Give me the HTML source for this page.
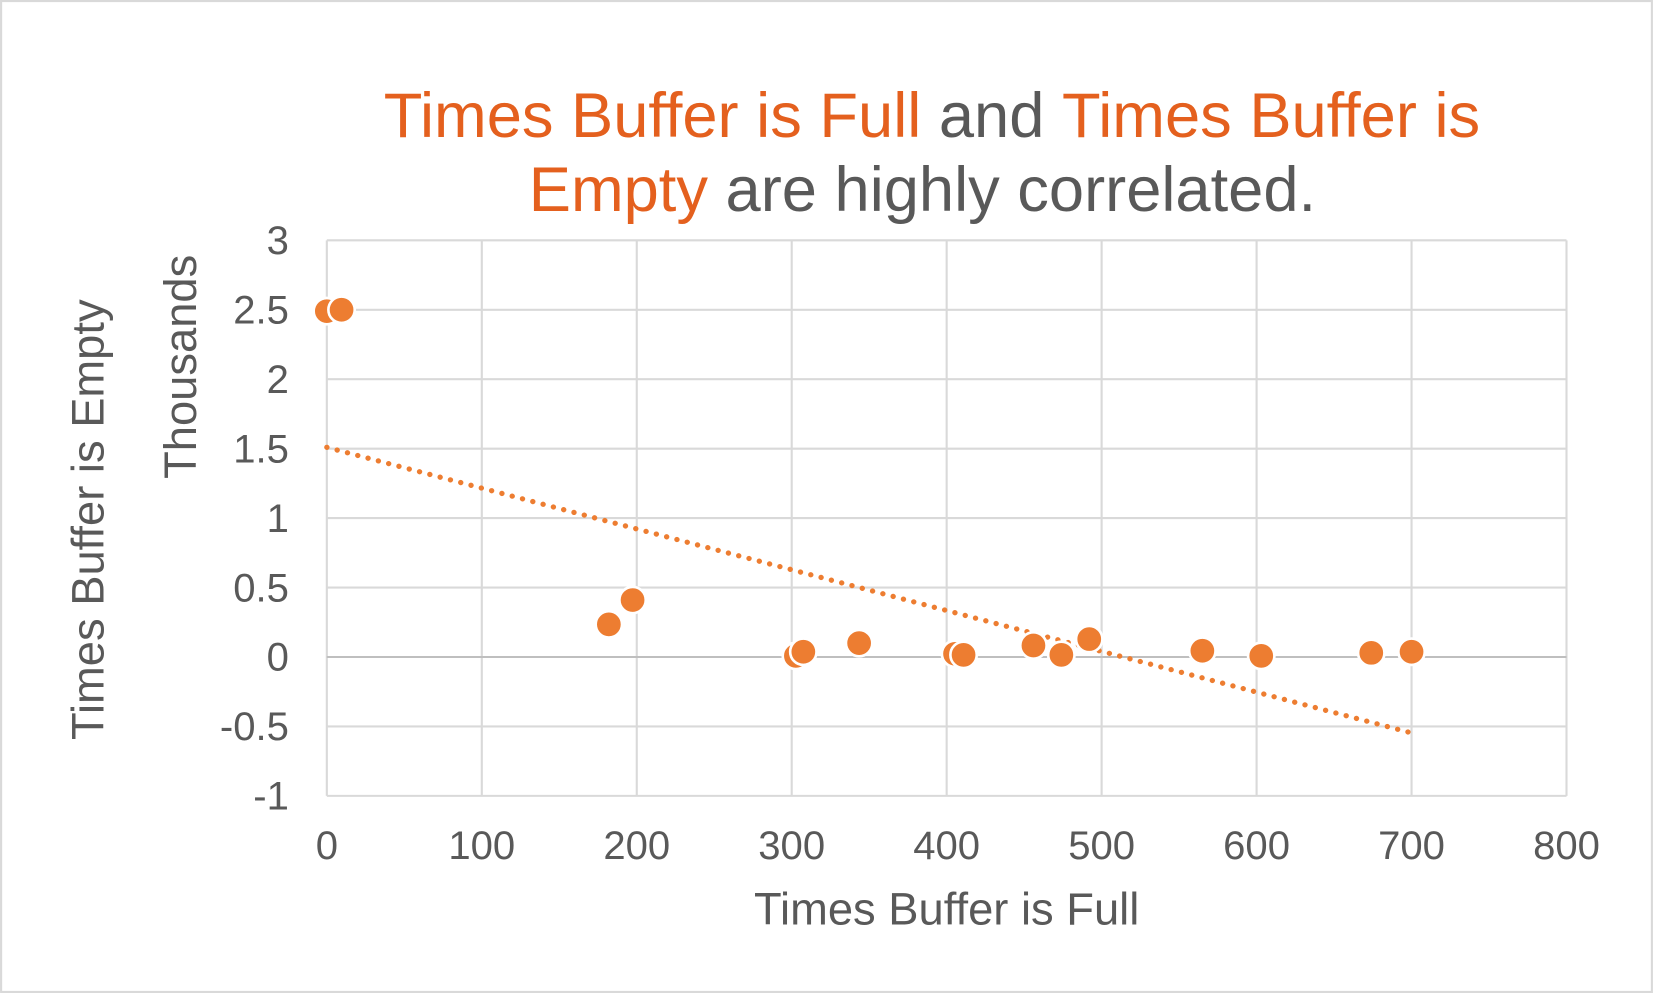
<!DOCTYPE html>
<html><head><meta charset="utf-8"><style>
html,body{margin:0;padding:0;background:#fff;}
svg{display:block;font-family:"Liberation Sans",Arial,sans-serif;}
</style></head><body>
<svg id="chart" width="1653" height="993" viewBox="0 0 1568 942">
<rect x="1" y="1" width="1566" height="940" fill="#fff" stroke="#d9d9d9" stroke-width="2"/>
<text x="884" y="130" text-anchor="middle" font-size="60" fill="#595959"><tspan fill="#e4601e">Times Buffer is Full</tspan> and <tspan fill="#e4601e">Times Buffer is</tspan></text>
<text x="875" y="200" text-anchor="middle" font-size="60" fill="#595959"><tspan fill="#e4601e">Empty</tspan> are highly correlated.</text>
<g id="grid"></g><g id="ticks"></g><g id="trend"></g><g id="points"></g>
<text x="898" y="877" text-anchor="middle" font-size="43" fill="#595959">Times Buffer is Full</text>
<text transform="translate(98,493) rotate(-90)" text-anchor="middle" font-size="43" fill="#595959">Times Buffer is Empty</text>
<text transform="translate(186,348) rotate(-90)" text-anchor="middle" font-size="43" fill="#595959">Thousands</text>
</svg>
<script>
const xTicks=[0,100,200,300,400,500,600,700,800];
const yTicks=[-1,-0.5,0,0.5,1,1.5,2,2.5,3];
const yTickLabels=["-1","-0.5","0","0.5","1","1.5","2","2.5","3"];
const xValues=[0,9.5,182,197.3,302.7,307.5,343.5,405.4,410.9,456,474,492,565,603,674,700];
const yValues=[2.49,2.5,0.235,0.41,0.008,0.038,0.1,0.023,0.015,0.083,0.015,0.129,0.045,0.008,0.03,0.038];
const NS="http://www.w3.org/2000/svg";
const X0=310,X1=1486,Y0=755,Y1=228;
function sx(v){return X0+(v-0)/(800-0)*(X1-X0);}
function sy(v){return Y0-(v-(-1))/(3-(-1))*(Y0-Y1);}
function mk(t,a,p){const e=document.createElementNS(NS,t);for(const k in a)e.setAttribute(k,a[k]);p.appendChild(e);return e;}
const grid=document.getElementById('grid'),ticks=document.getElementById('ticks');
xTicks.forEach(v=>{
 const l=mk('line',{x1:sx(v),x2:sx(v),y1:Y1,y2:Y0,stroke:'#d9d9d9','stroke-width':2},grid);
 
 
 const t=mk('text',{x:sx(v),y:815,'text-anchor':'middle','font-size':38,fill:'#595959'},ticks);
 t.textContent=v;
 
 
});
yTicks.forEach((v,i)=>{
 const l=mk('line',{x1:X0,x2:X1,y1:sy(v),y2:sy(v),stroke:v===0?'#bfbfbf':'#d9d9d9','stroke-width':2},grid);
 
 
 const t=mk('text',{x:274,y:sy(v)+13,'text-anchor':'end','font-size':38,fill:'#595959'},ticks);
 t.textContent=yTickLabels[i];
 
 
});
// linear regression trendline
const n=xValues.length;let mx=0,my=0;xValues.forEach((x,i)=>{mx+=x;my+=yValues[i];});mx/=n;my/=n;
let sxy=0,sxx=0;xValues.forEach((x,i)=>{sxy+=(x-mx)*(yValues[i]-my);sxx+=(x-mx)*(x-mx);});
const slope=sxy/sxx,icpt=my-slope*mx;
const xmin=Math.min(...xValues),xmax=Math.max(...xValues);
const tl=mk('line',{x1:sx(xmin),y1:sy(icpt+slope*xmin),x2:sx(xmax),y2:sy(icpt+slope*xmax),stroke:'#ed7d31','stroke-width':5,'stroke-dasharray':'0.1 10','stroke-linecap':'round'},document.getElementById('trend'));


const pts=document.getElementById('points');
xValues.forEach((x,i)=>{
 const c=mk('circle',{cx:sx(x),cy:sy(yValues[i]),r:12.5,fill:'#ed7d31',stroke:'#fff','stroke-width':2.5},pts);
 
 
});
</script>
</body></html>
